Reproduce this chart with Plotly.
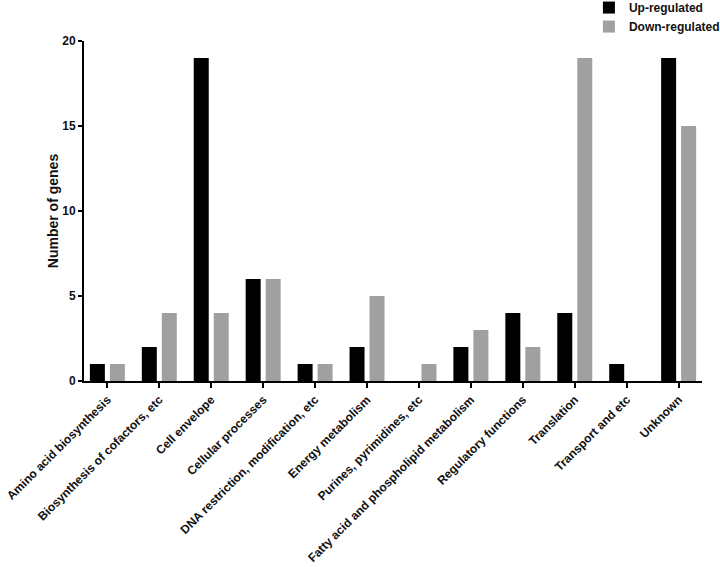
import plotly.graph_objects as go

categories = ["Amino acid biosynthesis", "Biosynthesis of cofactors, etc", "Cell envelope",
              "Cellular processes", "DNA restriction, modification, etc", "Energy metabolism",
              "Purines, pyrimidines, etc", "Fatty acid and phospholipid metabolism",
              "Regulatory functions", "Translation", "Transport and etc", "Unknown"]
up_regulated = [1, 2, 19, 6, 1, 2, 0, 2, 4, 4, 1, 19]
down_regulated = [1, 4, 4, 6, 1, 5, 1, 3, 2, 19, 0, 15]

FONT = "Liberation Sans, Arial, sans-serif"

fig = go.Figure()
fig.add_trace(go.Bar(x=categories, y=up_regulated, name="Up-regulated",
                     marker=dict(color="#000000", line=dict(width=0))))
fig.add_trace(go.Bar(x=categories, y=down_regulated, name="Down-regulated",
                     marker=dict(color="#a0a0a0", line=dict(width=0))))

fig.update_layout(
    width=720, height=567,
    margin=dict(l=84, r=18, t=41, b=186, autoexpand=False),
    paper_bgcolor="white", plot_bgcolor="white",
    barmode="group", bargap=0.23, bargroupgap=0.25,
    font=dict(family=FONT, color="#111", weight="bold"),
    legend=dict(x=0.817, y=1.141, xanchor="left", yanchor="top",
                font=dict(size=12, family=FONT, weight="bold"),
                bgcolor="rgba(0,0,0,0)"),
    showlegend=True,
)
fig.update_xaxes(
    range=[-0.45, 11.45], showline=True, linecolor="#000", linewidth=2,
    ticks="outside", ticklen=5, tickwidth=2, tickcolor="#000",
    tickangle=-45, tickfont=dict(size=12, family=FONT, weight="bold"),
    showgrid=False, zeroline=False,
)
fig.update_yaxes(
    range=[0, 20], tickvals=[0, 5, 10, 15, 20], showline=True, linecolor="#000", linewidth=2,
    ticks="outside", ticklen=4, tickwidth=2, tickcolor="#000",
    tickfont=dict(size=12, family=FONT, weight="bold"),
    title=dict(text="Number of genes", font=dict(size=14, family=FONT, weight="bold"), standoff=0),
    showgrid=False, zeroline=False,
)

fig.write_html("out.html", config={"displayModeBar": False},
               post_script="document.body.style.margin='0';")
